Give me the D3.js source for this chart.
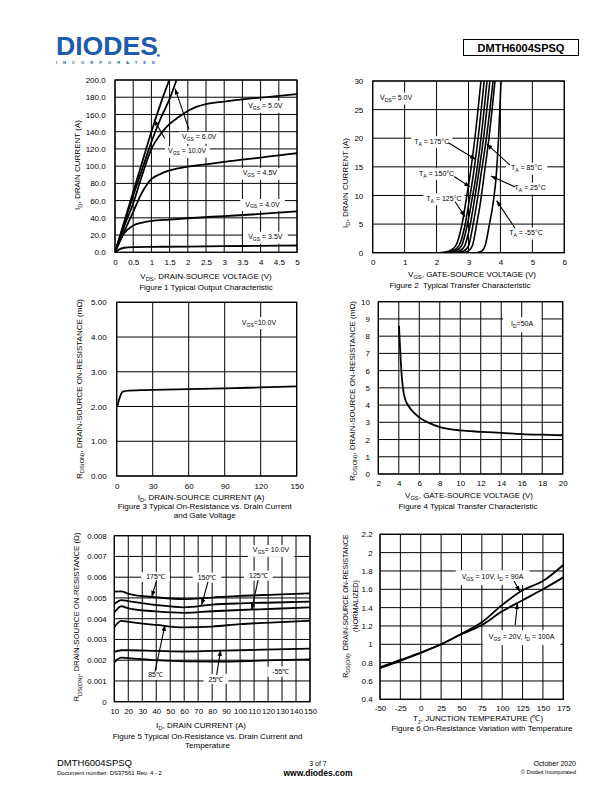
<!DOCTYPE html>
<html><head><meta charset="utf-8">
<script src="https://cdn.jsdelivr.net/npm/d3@7/dist/d3.min.js"></script>
<style>
html,body{margin:0;padding:0;background:#fff}
svg{display:block}
text{font-family:"Liberation Sans",Arial,Helvetica,sans-serif;white-space:pre}
</style></head><body>
<svg id="page" width="612" height="792" viewBox="0 0 612 792"></svg>
<script>
// ================= DATA =================
// Figure 1: Typical Output Characteristic (VDS [V], ID [A])
const f1XTicks = [0,0.5,1,1.5,2,2.5,3,3.5,4,4.5,5];
const f1YTicks = [0,20,40,60,80,100,120,140,160,180,200];
const f1Vgs10 = [[0,0],[0.25,35],[0.5,70],[0.75,105],[1,140],[1.25,172],[1.49,200]];
const f1Vgs6  = [[0,0],[0.25,33],[0.5,66],[0.75,97],[1,128],[1.25,155],[1.5,178],[1.69,200]];
const f1Vgs5  = [[0,0],[0.25,30],[0.5,57],[0.75,90],[1,120],[1.25,137],[1.5,149],[1.75,157],[2,164],[2.25,169],[2.5,172],[3,175],[3.5,177.5],[4,179.5],[4.5,181.5],[5,183.7]];
const f1Vgs45 = [[0,0],[0.25,24],[0.5,47],[0.75,70],[1,85],[1.25,91],[1.5,95],[2,99.5],[2.5,102],[3,105],[3.5,107.5],[4,110],[4.5,112.5],[5,115]];
const f1Vgs4  = [[0,0],[0.1,10],[0.25,22],[0.5,31],[0.75,34.5],[1,36.3],[1.5,38],[2,39.5],[3,42],[4,44.5],[5,47.5]];
const f1Vgs35 = [[0,0],[0.1,3],[0.25,5.3],[0.5,6],[1,6.3],[2,6.7],[3,7.1],[4,7.5],[5,7.9]];

// Figure 2: Typical Transfer Characteristic (VGS [V], ID [A])
const f2XTicks = [0,1,2,3,4,5,6];
const f2YTicks = [0,5,10,15,20,25,30];
const f2T175 = [[2.1,0],[2.4,0.3],[2.6,1.2],[2.79,4.8],[2.92,9],[3.05,13.6],[3.2,20],[3.39,30]];
const f2T150 = [[2.2,0],[2.5,0.3],[2.7,1.2],[2.89,4.8],[3.02,9],[3.15,13.6],[3.3,20],[3.49,30]];
const f2T125 = [[2.3,0],[2.6,0.3],[2.78,1.2],[2.96,4.8],[3.1,9],[3.24,13.6],[3.39,20],[3.58,30]];
const f2T85  = [[2.45,0],[2.72,0.3],[2.88,1.2],[3.05,4.8],[3.18,9],[3.31,13.6],[3.47,20],[3.67,30]];
const f2T25a = [[2.6,0],[2.85,0.3],[3.0,1.2],[3.14,4.8],[3.27,9],[3.39,13.6],[3.56,20],[3.77,30]];
const f2T25  = [[2.8,0],[3.0,0.3],[3.12,1.2],[3.25,4.8],[3.38,9],[3.49,13.6],[3.64,20],[3.83,30]];
const f2Tm55 = [[3.25,0],[3.42,0.3],[3.52,1.2],[3.65,4.8],[3.78,9],[3.87,13.6],[3.94,20],[4.02,30]];

// Figure 3: On-Resistance vs Drain Current (ID [A], RDS [mOhm])
const f3XTicks = [0,30,60,90,120,150];
const f3YTicks = [0,1,2,3,4,5];
const f3Id  = [0.5,2,5,10,20,30,60,90,120,150];
const f3Rds = [2.0,2.2,2.43,2.46,2.47,2.48,2.5,2.52,2.55,2.58];

// Figure 4: On-Resistance vs Gate Voltage (VGS [V], RDS [mOhm])
const f4XTicks = [2,4,6,8,10,12,14,16,18,20];
const f4YTicks = [0,1,2,3,4,5,6,7,8,9,10];
const f4Vgs = [4.02,4.1,4.2,4.3,4.45,4.65,4.95,5.4,5.9,7,8,10,12,14,16,18,20];
const f4Rds = [8.6,7.6,6.5,5.6,4.8,4.3,3.95,3.6,3.33,2.95,2.72,2.53,2.45,2.39,2.32,2.28,2.25];

// Figure 5: On-Resistance vs Drain Current and Temperature (ID [A], RDS [Ohm])
const f5XTicks = [10,20,30,40,50,60,70,80,90,100,110,120,130,140,150];
const f5YTicks = [0,0.001,0.002,0.003,0.004,0.005,0.006,0.007,0.008];
const f5Id   = [10,15,20,40,60,80,100,125,150];
const f5T175 = [0.0053,0.00532,0.0052,0.00503,0.00494,0.00502,0.0051,0.00516,0.00522];
const f5T150 = [0.0047,0.0049,0.00485,0.00466,0.00455,0.00468,0.00474,0.00478,0.00482];
const f5T125 = [0.0043,0.0046,0.0045,0.00435,0.00428,0.00436,0.00442,0.00448,0.00455];
const f5T85  = [0.0036,0.0039,0.00385,0.0037,0.00358,0.00362,0.00374,0.00382,0.0039];
const f5T25  = [0.0024,0.00248,0.00248,0.00245,0.00242,0.00245,0.00248,0.00252,0.00256];
const f5Tm55 = [0.0019,0.00212,0.0021,0.002,0.00194,0.00193,0.00195,0.002,0.00204];

// Figure 6: On-Resistance vs Temperature (TJ [C], normalized)
const f6XTicks = [-50,-25,0,25,50,75,100,125,150,175];
const f6YTicks = [0.4,0.6,0.8,1,1.2,1.4,1.6,1.8,2,2.2];
const f6Temp = [-50,-25,0,25,50,75,100,125,150,175];
const f6R10  = [0.74,0.82,0.905,1.0,1.115,1.24,1.43,1.59,1.69,1.865];
const f6R20  = [0.75,0.83,0.91,1.0,1.11,1.21,1.36,1.48,1.6,1.73];

// ================= DRAWING =================
const page = d3.select('#page');
const defs = page.append('defs');
defs.append('marker').attr('id','arr').attr('viewBox','0 0 8 6')
  .attr('refX',8).attr('refY',3).attr('markerWidth',6).attr('markerHeight',4.5)
  .attr('markerUnits','userSpaceOnUse').attr('orient','auto')
  .append('path').attr('d','M0,0L8,3L0,6Z').attr('fill','#000');

function rich(t, str, size) {
  const parts = str.split(/(_\{[^}]*\})/).filter(s => s.length);
  let sub = false;
  parts.forEach(p => {
    if (p.startsWith('_{')) {
      t.append('tspan').attr('font-size', size*0.72).attr('dy', size*0.28).text(p.slice(2,-1));
      sub = true;
    } else {
      const ts = t.append('tspan').text(p);
      if (sub) ts.attr('dy', -size*0.28);
      sub = false;
    }
  });
}
function addText(g, str, x, y, size, o = {}) {
  const t = g.append('text').attr('font-size', size).attr('fill', o.fill || '#000')
    .attr('text-anchor', o.anchor || 'middle');
  if (o.weight) t.attr('font-weight', o.weight);
  if (o.rotate) {
    t.attr('transform', `translate(${x},${y}) rotate(-90)`).attr('x',0).attr('y', 0.35*size);
  } else {
    t.attr('x', x).attr('y', y + 0.35*size);
  }
  rich(t, str, size);
  return t;
}

let clipId = 0;
function chart(c) {
  const g = page.append('g');
  const x = d3.scaleLinear().domain(c.xDomain).range([c.left, c.right]);
  const y = d3.scaleLinear().domain(c.yDomain).range([c.bottom, c.top]);
  const fs = c.tickSize || 8;
  // grid
  g.append('g').selectAll('line').data(c.xTicks).join('line')
    .attr('x1', d => x(d)).attr('x2', d => x(d)).attr('y1', c.top).attr('y2', c.bottom)
    .attr('stroke', '#000').attr('stroke-width', 1);
  g.append('g').selectAll('line').data(c.yTicks).join('line')
    .attr('y1', d => y(d)).attr('y2', d => y(d)).attr('x1', c.left).attr('x2', c.right)
    .attr('stroke', '#000').attr('stroke-width', 1);
  // label boxes + text
  const lg = g.append('g');
  (c.labels || []).forEach(l => {
    const gg = lg.append('g');
    const t = addText(gg, l.text, x(l.at[0]), y(l.at[1]), c.labelSize || 7);
    const b = t.node().getBBox();
    const px = l.padX ?? 5, py = l.padY ?? 1.5;
    gg.insert('rect', 'text').attr('x', b.x - px).attr('y', b.y - py)
      .attr('width', b.width + 2*px).attr('height', b.height + 2*py).attr('fill', '#fff');
  });
  // curves
  const id = 'clip' + (clipId++);
  defs.append('clipPath').attr('id', id).append('rect')
    .attr('x', c.left).attr('y', c.top).attr('width', c.right - c.left).attr('height', c.bottom - c.top);
  const line = d3.line().x(d => x(d[0])).y(d => y(d[1])).curve(d3.curveMonotoneX);
  g.append('g').attr('clip-path', `url(#${id})`).selectAll('path').data(c.series).join('path')
    .attr('d', d => line(d)).attr('fill', 'none').attr('stroke', '#000')
    .attr('stroke-width', c.curveWidth || 1.8).attr('stroke-linejoin', 'round');
  // arrows
  g.append('g').selectAll('line').data(c.arrows || []).join('line')
    .attr('x1', d => x(d.from[0])).attr('y1', d => y(d.from[1]))
    .attr('x2', d => x(d.to[0])).attr('y2', d => y(d.to[1]))
    .attr('stroke', '#000').attr('stroke-width', 1.1).attr('marker-end', 'url(#arr)');
  // frame
  g.append('rect').attr('x', c.left).attr('y', c.top).attr('width', c.right - c.left)
    .attr('height', c.bottom - c.top).attr('fill', 'none').attr('stroke', '#000').attr('stroke-width', 1.2);
  // axes
  const xa = d3.axisBottom(x).tickValues(c.xTicks).tickSize(0)
    .tickPadding(c.xTickY - c.bottom - 0.36*fs).tickFormat(c.xFmt || (d => String(d)));
  const ax = g.append('g').attr('transform', `translate(0,${c.bottom})`).call(xa);
  const ya = d3.axisLeft(y).tickValues(c.yTicks).tickSize(0)
    .tickPadding(c.left - c.yTickX).tickFormat(c.yFmt || (d => String(d)));
  const ay = g.append('g').attr('transform', `translate(${c.left},0)`).call(ya);
  [ax, ay].forEach(a => {
    a.select('.domain').remove();
    a.selectAll('text').attr('font-size', fs).attr('fill', '#000')
      .attr('font-family', '"Liberation Sans",Arial,sans-serif');
  });
  // titles
  addText(g, c.xTitle, c.xTitleX, c.xTitleY, 8);
  (c.yTitles).forEach(t => addText(g, t.text, t.x, t.y, t.size || 8, {rotate: true}));
  (c.captions).forEach(t => addText(g, t.text, t.x, t.y, 8));
}

// ---------- Figure 1 ----------
chart({
  left: 115, right: 297, top: 80, bottom: 252.3,
  xDomain: [0,5], yDomain: [0,200], xTicks: f1XTicks, yTicks: f1YTicks,
  yFmt: d3.format('.1f'), xTickY: 262.3, yTickX: 105.7,
  series: [f1Vgs10, f1Vgs6, f1Vgs5, f1Vgs45, f1Vgs4, f1Vgs35],
  labels: [
    {text: 'V_{GS} = 5.0V', at: [4.13,170]},
    {text: 'V_{GS} = 6.0V', at: [2.31,134], padX: 3},
    {text: 'V_{GS} = 10.0V', at: [1.98,117.6], padX: 3},
    {text: 'V_{GS} = 4.5V', at: [3.98,92]},
    {text: 'V_{GS} = 4.0V', at: [4.05,56]},
    {text: 'V_{GS} = 3.5V', at: [4.13,18]}
  ],
  arrows: [
    {from: [2.03,143], to: [1.65,190]},
    {from: [1.37,132], to: [1.07,154]}
  ],
  xTitle: 'V_{DS}, DRAIN-SOURCE VOLTAGE (V)', xTitleX: 206, xTitleY: 276,
  yTitles: [{text: 'I_{D}, DRAIN CURRENT (A)', x: 77, y: 165}],
  captions: [{text: 'Figure 1 Typical Output Characteristic', x: 206, y: 287}]
});

// ---------- Figure 2 ----------
chart({
  left: 372.7, right: 564.3, top: 81, bottom: 252.7,
  xDomain: [0,6], yDomain: [0,30], xTicks: f2XTicks, yTicks: f2YTicks,
  xTickY: 262.3, yTickX: 363.3,
  series: [f2T175, f2T150, f2T125, f2T85, f2T25a, f2T25, f2Tm55],
  curveWidth: 1.6,
  labels: [
    {text: 'V_{DS}= 5.0V', at: [0.73,27.1]},
    {text: 'T_{A} = 175°C', at: [1.85,19.5], padX: 3},
    {text: 'T_{A} = 150°C', at: [2.0,13.9], padX: 3},
    {text: 'T_{A} = 125°C', at: [2.23,9.5], padX: 3},
    {text: 'T_{A} = 85°C', at: [4.82,14.85]},
    {text: 'T_{A} = 25°C', at: [4.93,11.36]},
    {text: 'T_{A} = -55°C', at: [4.8,3.5]}
  ],
  arrows: [
    {from: [2.37,19.2], to: [3.23,16.3]},
    {from: [2.55,13.3], to: [3.05,11.5]},
    {from: [2.58,8.9], to: [2.89,6.3]},
    {from: [4.3,15.3], to: [3.57,19.0]},
    {from: [4.46,11.5], to: [3.70,13.4]},
    {from: [4.46,4.26], to: [3.88,9.1]}
  ],
  xTitle: 'V_{GS}, GATE-SOURCE VOLTAGE (V)', xTitleX: 472, xTitleY: 274.3,
  yTitles: [{text: 'I_{D}, DRAIN CURRENT (A)', x: 345, y: 183}],
  captions: [{text: 'Figure 2  Typical Transfer Characteristic', x: 460, y: 285}]
});

// ---------- Figure 3 ----------
chart({
  left: 116.7, right: 296.7, top: 302.3, bottom: 476,
  xDomain: [0,150], yDomain: [0,5], xTicks: f3XTicks, yTicks: f3YTicks,
  yFmt: d3.format('.2f'), xTickY: 485.7, yTickX: 106.7,
  series: [f3Id.map((d,i) => [d, f3Rds[i]])],
  labels: [{text: 'V_{GS}=10.0V', at: [118.6,4.43]}],
  xTitle: 'I_{D}, DRAIN-SOURCE CURRENT (A)', xTitleX: 201, xTitleY: 497.3,
  yTitles: [{text: 'R_{DS(ON)}, DRAIN-SOURCE ON-RESISTANCE (mΩ)', x: 79, y: 389}],
  captions: [
    {text: 'Figure 3 Typical On-Resistance vs. Drain Current', x: 204.7, y: 506},
    {text: 'and Gate Voltage', x: 204.7, y: 515}
  ]
});

// ---------- Figure 4 ----------
chart({
  left: 378.3, right: 562.7, top: 301.7, bottom: 474,
  xDomain: [2,20], yDomain: [0,10], xTicks: f4XTicks, yTicks: f4YTicks,
  xTickY: 483.3, yTickX: 370,
  series: [f4Vgs.map((d,i) => [d, f4Rds[i]])],
  labels: [{text: 'I_{D}=50A', at: [16.03,8.71], padX: 8, padY: 3}],
  xTitle: 'V_{GS}, GATE-SOURCE VOLTAGE (V)', xTitleX: 469, xTitleY: 495,
  yTitles: [{text: 'R_{DS(ON)}, DRAIN-SOURCE ON-RESISTANCE (mΩ)', x: 351.7, y: 391}],
  captions: [{text: 'Figure 4 Typical Transfer Characteristic', x: 468, y: 506}]
});

// ---------- Figure 5 ----------
const f5Series = [f5T175, f5T150, f5T125, f5T85, f5T25, f5Tm55].map(s => f5Id.map((d,i) => [d, s[i]]));
chart({
  left: 114.3, right: 310, top: 535.7, bottom: 701.7,
  xDomain: [10,150], yDomain: [0,0.008], xTicks: f5XTicks, yTicks: f5YTicks,
  xTickY: 711, yTickX: 106.7, tickSize: 7.8,
  series: f5Series,
  labels: [
    {text: 'V_{GS}= 10.0V', at: [122.1,0.00731]},
    {text: '175℃', at: [39.5,0.00601]},
    {text: '150℃', at: [76.3,0.00598]},
    {text: '125℃', at: [113.1,0.00607]},
    {text: '85℃', at: [39.5,0.00129]},
    {text: '25℃', at: [82.7,0.00109]},
    {text: '-55℃', at: [129.2,0.00145]}
  ],
  arrows: [
    {from: [40.3,0.00586], to: [36.8,0.00506]},
    {from: [77,0.00577], to: [72.5,0.00466]},
    {from: [112.8,0.00586], to: [108.3,0.00442]},
    {from: [39.1,0.00145], to: [46.3,0.0037]},
    {from: [83.2,0.00129], to: [86.1,0.00249]}
  ],
  xTitle: 'I_{D}, DRAIN CURRENT (A)', xTitleX: 201, xTitleY: 725,
  yTitles: [{text: 'R_{DS(ON)}, DRAIN-SOURCE ON-RESISTANCE (Ω)', x: 76.7, y: 617, size: 7.8}],
  captions: [
    {text: 'Figure 5 Typical On-Resistance vs. Drain Current and', x: 207.5, y: 736},
    {text: 'Temperature', x: 207.5, y: 745}
  ]
});

// ---------- Figure 6 ----------
chart({
  left: 380, right: 563.3, top: 534.3, bottom: 699.3,
  xDomain: [-50,175], yDomain: [0.4,2.2], xTicks: f6XTicks, yTicks: f6YTicks,
  xTickY: 708.3, yTickX: 372.7,
  series: [f6Temp.map((d,i) => [d, f6R10[i]]), f6Temp.map((d,i) => [d, f6R20[i]])],
  labels: [
    {text: 'V_{GS} = 10V, I_{D} = 90A', at: [88.1,1.737], padX: 6, padY: 3},
    {text: 'V_{GS} = 20V, I_{D} = 100A', at: [123.75,1.083], padX: 6, padY: 3}
  ],
  arrows: [
    {from: [114.6,1.69], to: [121.7,1.574]},
    {from: [115.9,1.21], to: [118.75,1.447]}
  ],
  xTitle: 'T_{J}, JUNCTION TEMPERATURE (℃)', xTitleX: 478, xTitleY: 718.6,
  yTitles: [
    {text: 'R_{DS(ON)}, DRAIN-SOURCE ON-RESISTANCE', x: 345, y: 606, size: 7.2},
    {text: '(NORMALIZED)', x: 355, y: 606, size: 7.2}
  ],
  captions: [{text: 'Figure 6 On-Resistance Variation with Temperature', x: 482, y: 728.6}]
});

// ---------- Header ----------
const hdr = page.append('g');
hdr.append('text').attr('x', 56).attr('y', 54.5).attr('font-size', 25).attr('font-weight', 'bold')
  .attr('fill', '#1d5bab').attr('textLength', 102).attr('lengthAdjust', 'spacingAndGlyphs').text('DIODES');
hdr.append('text').attr('x', 56).attr('y', 63.8).attr('font-size', 4.2).attr('font-weight', 'bold')
  .attr('fill', '#1d5bab').attr('textLength', 99).attr('lengthAdjust', 'spacing').text('INCORPORATED');
hdr.append('circle').attr('cx', 158.5).attr('cy', 55.5).attr('r', 1.3).attr('fill', '#1d5bab');
hdr.append('rect').attr('x', 463.5).attr('y', 39.5).attr('width', 115).attr('height', 16)
  .attr('fill', 'none').attr('stroke', '#000').attr('stroke-width', 1);
hdr.append('text').attr('x', 521).attr('y', 51.5).attr('text-anchor', 'middle').attr('font-size', 11)
  .attr('font-weight', 'bold').text('DMTH6004SPSQ');

// ---------- Footer ----------
const ft = page.append('g');
ft.append('text').attr('x', 57).attr('y', 766).attr('font-size', 9.5).text('DMTH6004SPSQ');
ft.append('text').attr('x', 57).attr('y', 775).attr('font-size', 6).text('Document number: DS37561 Rev. 4 - 2');
ft.append('text').attr('x', 318).attr('y', 766).attr('font-size', 7).attr('text-anchor', 'middle').text('3 of 7');
ft.append('text').attr('x', 318).attr('y', 775.5).attr('font-size', 8.5).attr('font-weight', 'bold').attr('text-anchor', 'middle').text('www.diodes.com');
ft.append('text').attr('x', 576).attr('y', 766).attr('font-size', 7).attr('text-anchor', 'end').text('October 2020');
ft.append('text').attr('x', 576).attr('y', 774).attr('font-size', 5.5).attr('text-anchor', 'end').text('© Diodes Incorporated');
</script>
</body></html>
